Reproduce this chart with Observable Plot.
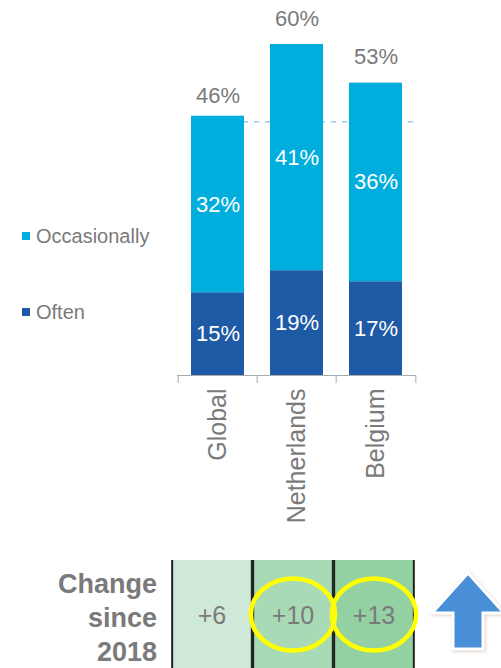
<!DOCTYPE html>
<html>
<head>
<meta charset="utf-8">
<script src="https://cdn.jsdelivr.net/npm/d3@7"></script>
<script src="https://cdn.jsdelivr.net/npm/@observablehq/plot@0.6"></script>
<style>
  html, body { margin: 0; padding: 0; background: #fff; }
  body { font-family: "Liberation Sans", Arial, sans-serif; }
  #wrap { position: relative; width: 501px; height: 668px; overflow: hidden; }
  .legend { position: absolute; left: 22px; font-size: 20px; color: #7a7a7a; line-height: 24px; white-space: nowrap; }
  .legend .sw { display: inline-block; width: 8px; height: 8px; margin-right: 6px; vertical-align: 3px; }
  #change { position: absolute; right: 344px; top: 567px; text-align: right; font-weight: bold; font-size: 27px; line-height: 34px; color: #7a7a7a; }
  #table { position: absolute; left: 0; top: 560px; }
  #arrow { position: absolute; left: 420px; top: 562px; }
</style>
</head>
<body>
<div id="wrap"></div>
<script>
// ---- data ----
const categories = ["Global", "Netherlands", "Belgium"];
const seriesNames = ["Often", "Occasionally"];
const often = [15, 19, 17];
const occasionally = [32, 41, 36];
const totals = [46, 60, 53];
const referenceLine = 46;
const changes = ["+6", "+10", "+13"];
const highlighted = [false, true, true];
const changeColors = ["#cfe9d8", "#a9dab6", "#93d1a3"];
const seriesColors = ["#1f5aa6", "#00aedd"];

const stacked = categories.flatMap((c, i) => [
  {country: c, series: seriesNames[0], value: often[i]},
  {country: c, series: seriesNames[1], value: occasionally[i]}
]);
const totalRows = categories.map((c, i) => ({country: c, total: totals[i]}));
const changeRows = categories.map((c, i) => ({country: c, change: changes[i], color: changeColors[i], hl: highlighted[i]}));

const W = 501, H = 668;
const mL = 177, mR = 85;
const step = (W - mL - mR) / categories.length;
const font = "Liberation Sans, Arial, sans-serif";

const main = Plot.plot({
  width: W, height: H,
  marginTop: 44, marginBottom: 293, marginLeft: mL, marginRight: mR,
  style: {fontFamily: font, background: "transparent"},
  x: {domain: categories, paddingInner: 0.325, paddingOuter: 0.1625, axis: null, label: null},
  y: {domain: [0, 60], axis: null, label: null},
  color: {domain: seriesNames, range: seriesColors},
  marks: [
    Plot.ruleY([referenceLine], {stroke: "#9ccbe6", strokeWidth: 1.5, strokeDasharray: "5,6", insetLeft: 66, insetRight: -3}),
    Plot.barY(stacked, {x: "country", y: "value", fill: "series"}),
    Plot.text(stacked, Plot.stackY({x: "country", y: "value", text: d => d.value + "%", fill: "white", fontSize: 22})),
    Plot.text(totalRows, {x: "country", y: "total", text: d => d.total + "%", fill: "#7a7a7a", fontSize: 22, lineAnchor: "bottom", dy: -19}),
    Plot.ruleY([0], {stroke: "#aaaaaa", strokeWidth: 1}),
    Plot.ruleX(categories, {x: d => d, y1: 0, y2: 0, dx: -step / 2, insetBottom: -8, stroke: "#aaaaaa"}),
    Plot.ruleX(categories.slice(-1), {x: d => d, y1: 0, y2: 0, dx: step / 2, insetBottom: -8, stroke: "#aaaaaa"}),
    Plot.axisX({tickRotate: -90, tickSize: 0, tickPadding: 13, fontSize: 25, fill: "#7a7a7a", anchor: "bottom", label: null})
  ]
});

const wrap = document.getElementById("wrap");
wrap.appendChild(main);

// legend
const legendItems = [
  {name: seriesNames[1], color: seriesColors[1], top: 224},
  {name: seriesNames[0], color: seriesColors[0], top: 300}
];
for (const it of legendItems) {
  const d = document.createElement("div");
  d.className = "legend";
  d.style.top = it.top + "px";
  d.innerHTML = `<span class="sw" style="background:${it.color}"></span>${it.name}`;
  wrap.appendChild(d);
}

// change label
const ch = document.createElement("div");
ch.id = "change";
ch.innerHTML = "Change<br>since<br>2018";
wrap.appendChild(ch);

// ellipse symbol
const ellipse = {
  draw(ctx, size) {
    const r = Math.sqrt(size / Math.PI), rx = r * 1.17, ry = r, k = 0.5523;
    ctx.moveTo(rx, 0);
    ctx.bezierCurveTo(rx, k * ry, k * rx, ry, 0, ry);
    ctx.bezierCurveTo(-k * rx, ry, -rx, k * ry, -rx, 0);
    ctx.bezierCurveTo(-rx, -k * ry, -k * rx, -ry, 0, -ry);
    ctx.bezierCurveTo(k * rx, -ry, rx, -k * ry, rx, 0);
    ctx.closePath();
  }
};

const tL = 170, tR = 86;
const tStep = (W - tL - tR) / categories.length;
const table = Plot.plot({
  width: W, height: 108,
  marginTop: 0, marginBottom: 0, marginLeft: tL, marginRight: tR,
  style: {fontFamily: font, background: "transparent"},
  x: {domain: categories, padding: 0, axis: null, label: null},
  marks: [
    Plot.cell(changeRows, {x: "country", fill: "color", insetLeft: 1, insetRight: 1}),
    Plot.ruleX(changeRows, {x: "country", dx: -tStep / 2 + 1, stroke: "#222", strokeWidth: 2}),
    Plot.ruleX(changeRows, {x: "country", dx: tStep / 2 - 1, stroke: "#222", strokeWidth: 2}),
    Plot.text(changeRows, {x: "country", text: "change", fill: "#7a7a7a", fontSize: 25, dy: 1}),
    Plot.dot(changeRows.filter(d => d.hl), {x: "country", r: 36, symbol: ellipse, stroke: "#ffff00", strokeWidth: 4.5, fill: "none"})
  ]
});
const tdiv = document.createElement("div");
tdiv.id = "table";
tdiv.appendChild(table);
wrap.appendChild(tdiv);

// up arrow icon
const arrow = document.createElement("div");
arrow.id = "arrow";
arrow.innerHTML = `<svg width="90" height="106" viewBox="0 0 90 106">
  <defs><filter id="sh" x="-20%" y="-20%" width="140%" height="140%"><feDropShadow dx="1" dy="1" stdDeviation="1.5" flood-color="#c8a890" flood-opacity="0.6"/></filter></defs>
  <polygon points="48,11 84,51 63,51 63,87 33,87 33,51 12,51" fill="#4a8fd7" stroke="#ffffff" stroke-width="3" filter="url(#sh)"/>
</svg>`;
wrap.appendChild(arrow);
</script>
</body>
</html>
